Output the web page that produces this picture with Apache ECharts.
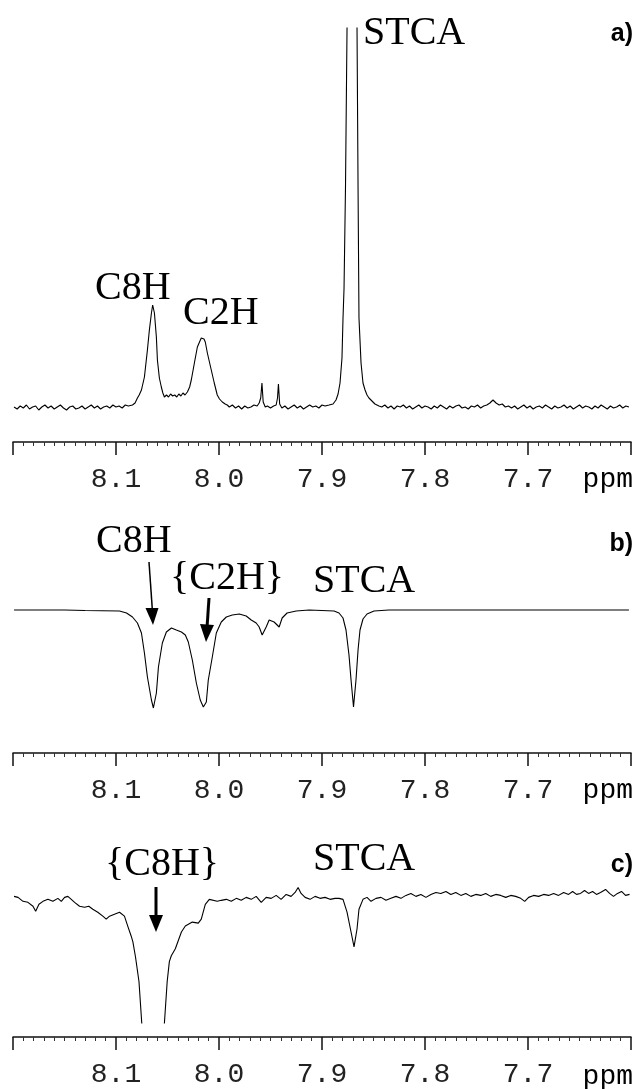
<!DOCTYPE html>
<html>
<head>
<meta charset="utf-8">
<script src="https://cdn.jsdelivr.net/npm/echarts@6/dist/echarts.min.js"></script>
<style>
  html, body { margin: 0; padding: 0; background: #fff; }
  #chart { width: 634px; height: 1089px; }
</style>
</head>
<body>
<div id="chart"></div>
<script>
  // ppm axis, shared by the three spectra (reversed, 8.2 -> 7.6)
  const ppmMin = 7.6, ppmMax = 8.2, ppmStep = 0.1;

  // a) 1D spectrum  [ppm, intensity]
  const spectrumA = [
    [8.199, 1], [8.196, -1], [8.193, 2], [8.190, 0], [8.187, 3], [8.184, -1], [8.181, 1], [8.178, 2],
    [8.175, -2], [8.172, 1], [8.169, 3], [8.166, 0], [8.163, 2], [8.160, -1], [8.157, 1], [8.154, 3],
    [8.151, 0], [8.148, -2], [8.145, 1], [8.142, 2], [8.139, -1], [8.136, 0], [8.133, 2], [8.130, -1],
    [8.127, 1], [8.124, 3], [8.121, 0], [8.118, 2], [8.115, -1], [8.112, 1], [8.109, 2], [8.106, 0],
    [8.103, 3], [8.100, 1], [8.097, 2], [8.094, 0], [8.091, 3], [8.088, 2],
    // C8H
    [8.0840, 3], [8.0815, 5], [8.0792, 10], [8.0775, 13], [8.0753, 18], [8.0724, 31], [8.0695, 58],
    [8.0676, 78], [8.0656, 95], [8.0644, 103], [8.0627, 95], [8.0608, 71], [8.0598, 48], [8.0579, 30],
    [8.0560, 21], [8.0545, 15], [8.0530, 11], [8.0510, 13], [8.0490, 11], [8.0470, 14], [8.0450, 12],
    [8.0430, 13], [8.0410, 11], [8.0390, 14], [8.0370, 12], [8.0350, 15], [8.0330, 13], [8.0307, 16],
    // C2H
    [8.0285, 21], [8.0269, 28], [8.0239, 45], [8.0210, 61], [8.0185, 67], [8.0172, 70], [8.0159, 71],
    [8.0146, 69], [8.0133, 66], [8.0113, 55], [8.0075, 38], [8.0046, 25], [8.0017, 13], [7.9995, 9],
    [7.9968, 6], [7.9940, 4], [7.9920, 3], [7.990, 1], [7.987, 3], [7.984, 0], [7.981, 2], [7.978, -1],
    [7.975, 2], [7.972, 0], [7.969, 1], [7.966, 3], [7.963, 2],
    // small pair
    [7.9610, 5], [7.9595, 10], [7.9583, 25], [7.9571, 6], [7.9551, 1], [7.953, 2], [7.950, 0], [7.947, 2],
    [7.9445, 3], [7.9432, 10], [7.9423, 24], [7.9411, 4], [7.939, 0], [7.936, 2], [7.933, -1], [7.930, 1],
    [7.927, 3], [7.924, 0], [7.921, 2], [7.918, -1], [7.915, 1], [7.912, 3], [7.909, 1], [7.906, 2],
    [7.903, 0], [7.900, 3], [7.897, 2],
    // STCA (off scale)
    [7.8931, 3], [7.8893, 4], [7.8864, 8], [7.8844, 14], [7.8825, 25], [7.8806, 50], [7.8796, 90],
    [7.8786, 120], [7.8772, 220], [7.8757, 380], [7.8738, 700], [7.8708, 1000], [7.8679, 700],
    [7.8660, 380], [7.8650, 220], [7.8641, 90], [7.8621, 45], [7.8602, 25], [7.8582, 18], [7.8563, 13],
    [7.8544, 10], [7.8515, 7], [7.8486, 4], [7.8447, 2],
    [7.842, 1], [7.839, 3], [7.836, 0], [7.833, 2], [7.830, -1], [7.827, 2], [7.824, 1], [7.821, 3],
    [7.818, 0], [7.815, 2], [7.812, -1], [7.809, 1], [7.806, 3], [7.803, 0], [7.800, 2], [7.797, 1],
    [7.794, -1], [7.791, 2], [7.788, 0], [7.785, 3], [7.782, 1], [7.779, -1], [7.776, 2], [7.773, 0],
    [7.770, 2], [7.767, 3], [7.764, 0], [7.761, 1], [7.758, -1], [7.755, 2], [7.752, 1], [7.749, 3],
    [7.746, 0], [7.743, 2], [7.740, 3], [7.737, 5], [7.734, 8], [7.731, 5], [7.728, 3], [7.725, 4],
    [7.722, 1], [7.719, 2], [7.716, 0], [7.713, 2], [7.710, -1], [7.707, 1], [7.704, 3], [7.701, 0],
    [7.698, 2], [7.695, -1], [7.692, 1], [7.689, 2], [7.686, 0], [7.683, 3], [7.680, 1], [7.677, -1],
    [7.674, 2], [7.671, 0], [7.668, 1], [7.665, 3], [7.662, 0], [7.659, 2], [7.656, -1], [7.653, 1],
    [7.650, 3], [7.647, 0], [7.644, 2], [7.641, 1], [7.638, -1], [7.635, 2], [7.632, 0], [7.629, 3],
    [7.626, 1], [7.623, -1], [7.620, 2], [7.617, 0], [7.614, 1], [7.611, 3], [7.608, 0], [7.605, 2],
    [7.602, 1]
  ];

  // b) difference spectrum, C2H saturated
  const spectrumB = [
    [8.199, 0], [8.150, 0], [8.130, -0.5], [8.0966, -1], [8.0898, -3], [8.0840, -7], [8.0792, -13],
    [8.0753, -23], [8.0724, -43], [8.0695, -67], [8.0656, -90], [8.0637, -98], [8.0608, -83],
    [8.0588, -57], [8.0550, -33], [8.0511, -22], [8.0462, -18], [8.0414, -20], [8.0365, -22],
    [8.0327, -25], [8.0298, -32], [8.0259, -50], [8.0220, -73], [8.0182, -90], [8.0152, -97],
    [8.0123, -92], [8.0104, -70], [8.0065, -47], [8.0026, -23], [7.9978, -12], [7.9929, -7],
    [7.9871, -5], [7.9803, -4], [7.9736, -6], [7.9687, -10], [7.9639, -13], [7.9610, -17],
    [7.9581, -25], [7.9542, -17], [7.9513, -10], [7.9465, -12], [7.9416, -17], [7.9387, -8],
    [7.9339, -3], [7.9251, -1], [7.9125, 0],
    [7.8883, -1], [7.8835, -3], [7.8796, -8], [7.8767, -20], [7.8738, -45], [7.8718, -70],
    [7.8694, -97], [7.8670, -70], [7.8650, -40], [7.8631, -20], [7.8602, -9], [7.8563, -4],
    [7.8495, -1], [7.8350, 0], [7.602, 0]
  ];

  // c) difference spectrum, C8H saturated
  const spectrumC = [
    [8.1990, 1], [8.1951, 0], [8.1903, -4], [8.1855, -5], [8.1806, -9], [8.1780, -14], [8.1748, -7],
    [8.1709, -4], [8.1661, -2], [8.1613, -4], [8.1564, -1], [8.1531, -4], [8.1499, 0], [8.1467, 1],
    [8.1434, -2], [8.1402, -5], [8.1354, -9], [8.1305, -10], [8.1264, -9], [8.1225, -12], [8.1177, -15],
    [8.1128, -19], [8.1095, -22], [8.1063, -19], [8.1015, -17], [8.0966, -15], [8.0918, -19],
    [8.0886, -29], [8.0853, -39], [8.0836, -45], [8.0811, -60], [8.0777, -85], [8.0750, -127],
    [8.0714, -200], [8.0646, -260], [8.0569, -200], [8.0530, -127], [8.0503, -85], [8.0482, -65],
    [8.0463, -59], [8.0424, -52], [8.0365, -35], [8.0327, -29], [8.0259, -25], [8.0201, -26],
    [8.0172, -22], [8.0133, -7], [8.0094, -2], [8.0017, -4],
    [7.9978, -3], [7.9929, -2], [7.9881, -4], [7.9832, -1], [7.9784, -3], [7.9736, 0], [7.9687, -2],
    [7.9639, 1], [7.9590, -5], [7.9542, 0], [7.9493, -1], [7.9445, 2], [7.9397, -2], [7.9348, 3],
    [7.9300, 1], [7.9261, 5], [7.9232, 10], [7.9203, 4], [7.9164, 0], [7.9116, -2], [7.9067, 1],
    [7.9019, -1], [7.8970, 0], [7.8922, -2], [7.8873, -1], [7.8835, -1],
    [7.8796, -2], [7.8757, -15], [7.8718, -35], [7.8689, -50], [7.8660, -32], [7.8641, -12],
    [7.8602, -2], [7.8563, 0], [7.8524, -4],
    [7.8476, -1], [7.8427, 0], [7.8379, -3], [7.8331, -1], [7.8282, 1], [7.8234, -1], [7.8185, 2],
    [7.8137, 4], [7.8088, 1], [7.8040, 3], [7.7991, 0], [7.7943, 3], [7.7894, 5], [7.7846, 4],
    [7.7797, 6], [7.7749, 3], [7.7701, 5], [7.7652, 2], [7.7604, 4], [7.7555, 1], [7.7507, 3],
    [7.7459, 2], [7.7410, 4], [7.7362, 1], [7.7313, 3], [7.7265, 2], [7.7216, 0], [7.7168, 2],
    [7.7120, 1], [7.7071, -1], [7.7032, -4], [7.6994, 0], [7.6945, 2], [7.6897, 1], [7.6848, 3],
    [7.6800, 2], [7.6751, 4], [7.6703, 2], [7.6654, 5], [7.6606, 3], [7.6567, 6], [7.6529, 3],
    [7.6490, 4], [7.6451, 7], [7.6412, 4], [7.6373, 6], [7.6335, 3], [7.6296, 5], [7.6247, 8],
    [7.6208, 4], [7.6170, 1], [7.6131, 4], [7.6092, 6], [7.6053, 2], [7.6014, 3]
  ];

  const serif = 'Liberation Serif';
  const mono = 'Liberation Mono';

  function makeXAxis(gridIndex, offset) {
    return {
      type: 'value', gridIndex: gridIndex, offset: offset, position: 'bottom',
      min: ppmMin, max: ppmMax, interval: ppmStep, inverse: true,
      axisLine: { onZero: false, lineStyle: { color: '#111', width: 1.5 } },
      axisTick: { length: 13, lineStyle: { color: '#111', width: 1.5 } },
      minorTick: { show: true, splitNumber: 10, length: 4, lineStyle: { color: '#333', width: 1 } },
      splitLine: { show: false },
      axisLabel: {
        margin: 38, fontFamily: mono, fontSize: 28, color: '#222',
        verticalAlign: 'middle', lineHeight: 28,
        formatter: function (v) {
          if (Math.abs(v - ppmMin) < 1e-6 || Math.abs(v - ppmMax) < 1e-6) return '';
          return v.toFixed(1);
        }
      }
    };
  }

  function label(text, x, y, size, align, family, weight) {
    return {
      type: 'text', x: x, y: y, silent: true,
      style: {
        text: text, fill: '#000', fontSize: size, fontFamily: family || serif,
        fontWeight: weight || 'normal',
        textAlign: align || 'left', textVerticalAlign: 'middle'
      }
    };
  }

  function arrow(x1, y1, x2, y2, w, head) {
    return [
      { type: 'line', silent: true, shape: { x1: x1, y1: y1, x2: x2, y2: y2 }, style: { stroke: '#000', lineWidth: w } },
      { type: 'polygon', silent: true, shape: { points: head }, style: { fill: '#000' } }
    ];
  }

  const lineSeries = function (idx, data) {
    return {
      type: 'line', xAxisIndex: idx, yAxisIndex: idx, data: data,
      showSymbol: false, clip: true, smooth: false,
      lineStyle: { color: '#000', width: 1.1 }
    };
  };

  const chart = echarts.init(document.getElementById('chart'));
  chart.setOption({
    backgroundColor: '#fff',
    animation: false,
    grid: [
      { left: 13, right: 1, top: 28, height: 414 },
      { left: 13, right: 1, top: 560, height: 193 },
      { left: 13, right: 1, top: 840, height: 185 }
    ],
    xAxis: [makeXAxis(0, 0), makeXAxis(1, 0), makeXAxis(2, 14)],
    yAxis: [
      { type: 'value', gridIndex: 0, min: -34, max: 380, show: false },
      { type: 'value', gridIndex: 1, min: -143, max: 50, show: false },
      { type: 'value', gridIndex: 2, min: -127, max: 58, show: false }
    ],
    series: [
      lineSeries(0, spectrumA),
      lineSeries(1, spectrumB),
      lineSeries(2, spectrumC)
    ],
    graphic: [
      label('STCA', 363, 33, 40),
      label('C8H', 95, 288, 40),
      label('C2H', 183, 313, 40),
      label('a)', 633, 34, 25, 'right', 'Liberation Sans', 'bold'),
      label('ppm', 633, 480, 28, 'right', mono),

      label('C8H', 96, 541, 40),
      label('{C2H}', 170, 578, 40),
      label('STCA', 313, 581, 40),
      label('b)', 633, 544, 25, 'right', 'Liberation Sans', 'bold'),
      label('ppm', 633, 791, 28, 'right', mono),

      label('{C8H}', 105, 864, 40),
      label('STCA', 313, 859, 40),
      label('c)', 633, 865, 25, 'right', 'Liberation Sans', 'bold'),
      label('ppm', 633, 1077, 28, 'right', mono)
    ].concat(
      arrow(149, 562, 152.5, 612, 1.5, [[145.5, 608], [158.5, 608], [153, 625]]),
      arrow(209, 598, 207, 628, 3, [[200, 624], [214, 625], [206, 642]]),
      arrow(156, 887, 156, 918, 3, [[149, 915], [163, 915], [156, 932]])
    )
  });
</script>
</body>
</html>
